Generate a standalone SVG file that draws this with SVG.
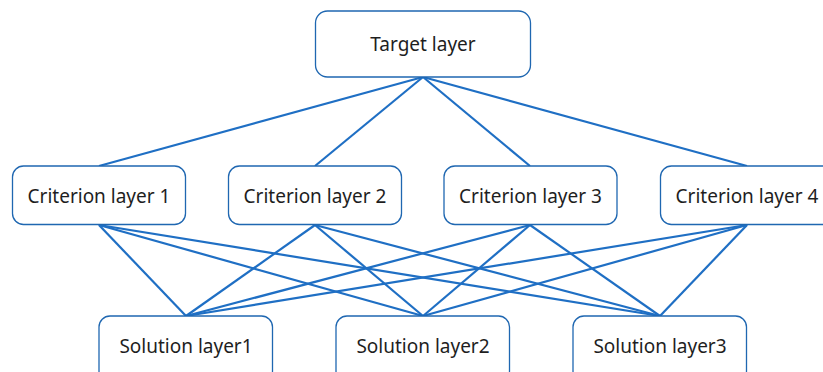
<svg xmlns="http://www.w3.org/2000/svg" width="823" height="372" viewBox="0 0 823 372">
  <style>
    .box { fill: #ffffff; stroke: #1f67b1; stroke-width: 1.3; }
    .lbl { font-family: "Noto Sans", "Open Sans", sans-serif; font-size: 19px; fill: #1e1e1e; text-anchor: middle; dominant-baseline: central; }
    .link { stroke: #1f6fc4; stroke-width: 2.2; fill: none; }
  </style>
  <rect width="823" height="372" fill="#ffffff"/>
  <g id="connectors">
    <!-- target to criteria -->
    <line class="link" x1="423" y1="77" x2="99" y2="166"/>
    <line class="link" x1="423" y1="77" x2="315" y2="166"/>
    <line class="link" x1="423" y1="77" x2="530" y2="166"/>
    <line class="link" x1="423" y1="77" x2="747" y2="166"/>
    <!-- criteria to solutions -->
    <line class="link" x1="99" y1="225" x2="186" y2="316"/>
    <line class="link" x1="99" y1="225" x2="423" y2="316"/>
    <line class="link" x1="99" y1="225" x2="660" y2="316"/>
    <line class="link" x1="315" y1="225" x2="186" y2="316"/>
    <line class="link" x1="315" y1="225" x2="423" y2="316"/>
    <line class="link" x1="315" y1="225" x2="660" y2="316"/>
    <line class="link" x1="530" y1="225" x2="186" y2="316"/>
    <line class="link" x1="530" y1="225" x2="423" y2="316"/>
    <line class="link" x1="530" y1="225" x2="660" y2="316"/>
    <line class="link" x1="747" y1="225" x2="186" y2="316"/>
    <line class="link" x1="747" y1="225" x2="423" y2="316"/>
    <line class="link" x1="747" y1="225" x2="660" y2="316"/>
  </g>
  <g id="target">
    <rect class="box" x="315.5" y="11" width="215" height="66" rx="12"/>
    <text class="lbl" x="423" y="44">Target layer</text>
  </g>
  <g id="criterion1">
    <rect class="box" x="12.5" y="166" width="173" height="58.5" rx="11"/>
    <text class="lbl" x="99" y="196">Criterion layer 1</text>
  </g>
  <g id="criterion2">
    <rect class="box" x="228.5" y="166" width="173" height="58.5" rx="11"/>
    <text class="lbl" x="315" y="196">Criterion layer 2</text>
  </g>
  <g id="criterion3">
    <rect class="box" x="444" y="166" width="173" height="58.5" rx="11"/>
    <text class="lbl" x="530.5" y="196">Criterion layer 3</text>
  </g>
  <g id="criterion4">
    <rect class="box" x="660.5" y="166" width="173" height="58.5" rx="11"/>
    <text class="lbl" x="747" y="196">Criterion layer 4</text>
  </g>
  <g id="solution1">
    <rect class="box" x="99" y="316" width="173.5" height="66" rx="11"/>
    <text class="lbl" x="186" y="346">Solution layer1</text>
  </g>
  <g id="solution2">
    <rect class="box" x="336" y="316" width="173.5" height="66" rx="11"/>
    <text class="lbl" x="423" y="346">Solution layer2</text>
  </g>
  <g id="solution3">
    <rect class="box" x="573" y="316" width="173.5" height="66" rx="11"/>
    <text class="lbl" x="660" y="346">Solution layer3</text>
  </g>
</svg>
